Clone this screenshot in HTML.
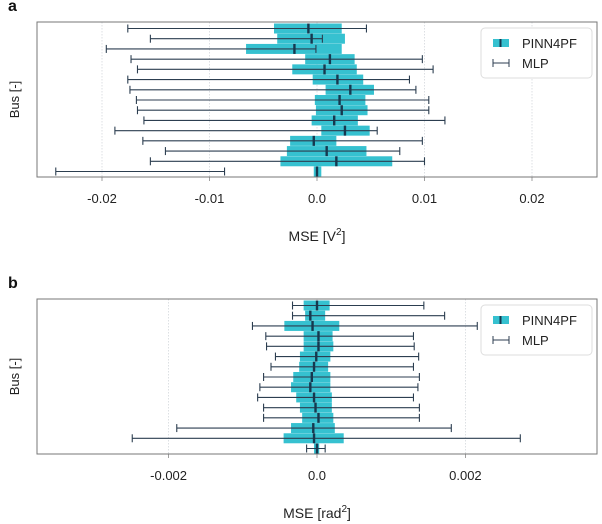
<!DOCTYPE html>
<html><head><meta charset="utf-8"><style>
body{margin:0;background:#fff;}
svg{display:block;font-family:"Liberation Sans",sans-serif;}
</style></head><body>
<svg id="fig" width="602" height="524"></svg>
<script>
// Panel a data (units 1e-3 V^2)
const aMlpLo=[-17.6,-15.5,-19.6,-17.3,-16.7,-17.6,-17.4,-16.8,-16.7,-16.1,-18.8,-16.2,-14.1,-15.5,-24.3];
const aMlpHi=[4.6,0.5,-0.1,9.8,10.8,8.6,9.2,10.4,10.4,11.9,5.6,9.8,7.7,10.0,-8.6];
const aBoxLo=[-4.0,-3.7,-6.6,-1.1,-2.3,-0.4,0.8,-0.2,-0.1,-0.5,0.4,-2.5,-2.8,-3.4,-0.3];
const aBoxHi=[2.3,2.6,2.3,3.5,3.7,4.3,5.3,4.5,4.7,3.8,4.9,1.8,4.6,7.0,0.4];
const aMean=[-0.8,-0.5,-2.1,1.2,0.7,1.9,3.1,2.1,2.3,1.6,2.6,-0.3,0.9,1.8,0];
const aTicks=[-0.02,-0.01,0.0,0.01,0.02];
const aTickLabels=["-0.02","-0.01","0.0","0.01","0.02"];
// Panel b data (units 1e-4 rad^2)
const bMlpLo=[-3.3,-3.3,-8.7,-6.9,-6.8,-5.6,-6.2,-7.2,-7.7,-8.0,-7.2,-7.2,-18.9,-24.9,-1.4];
const bMlpHi=[14.4,17.2,21.6,13.0,13.1,13.7,13.0,13.8,13.6,13.0,13.8,13.8,18.1,27.4,1.1];
const bBoxLo=[-1.8,-1.6,-4.4,-1.8,-1.8,-2.3,-2.4,-3.2,-3.5,-2.8,-2.3,-2.0,-3.5,-4.5,-0.4];
const bBoxHi=[1.7,1.1,3.0,2.1,2.2,1.8,1.5,1.8,1.8,2.0,2.0,2.2,2.4,3.6,0.3];
const bMean=[0,-0.9,-0.6,0.2,0.2,-0.1,-0.4,-0.7,-0.9,-0.4,-0.2,0.2,-0.5,-0.4,0];
const bTicks=[-0.002,0.0,0.002];
const bTickLabels=["-0.002","0.0","0.002"];

const NS="http://www.w3.org/2000/svg";
const svg=document.getElementById('fig');
function mk(tag,attrs,parent){const e=document.createElementNS(NS,tag);for(const k in attrs)e.setAttribute(k,attrs[k]);(parent||svg).appendChild(e);return e;}

function panel(o){
  const g=mk('g',{});
  
  
  const L=37,R=597,T=o.top,B=o.top+155;
  const xs=v=>o.x0+v*o.scale;
  const ys=i=>T+6.5+i*(B-T-12)/14;
  o.ticks.forEach((t,i)=>{
    const x=xs(t);
    const gl=mk('line',{x1:x,x2:x,y1:T,y2:B,stroke:'#d4d8dc','stroke-width':0.8,'stroke-dasharray':'1.5,1.5'},g);
    
    
    mk('line',{x1:x,x2:x,y1:B,y2:B+4,stroke:'#888','stroke-width':0.8},g);
    const tl=mk('text',{x:x,y:B+26,'font-size':13,'text-anchor':'middle',fill:'#222'},g);
    tl.textContent=o.tickLabels[i];
    
    
  });
  const n=o.mean.length;
  for(let i=0;i<n;i++){
    const y=ys(i);
    const bx=mk('rect',{x:xs(o.boxLo[i]*o.unit),y:y-5,width:Math.max(1,xs(o.boxHi[i]*o.unit)-xs(o.boxLo[i]*o.unit)),height:10,fill:'#36c1d0'},g);
    
    
  }
  for(let i=0;i<n;i++){
    const y=ys(i);
    const x1=xs(o.mlpLo[i]*o.unit),x2=xs(o.mlpHi[i]*o.unit);
    const eb=mk('g',{stroke:'#2c3e50','stroke-width':1.1},g);
    
    
    mk('line',{x1:x1,x2:x2,y1:y,y2:y},eb);
    mk('line',{x1:x1,x2:x1,y1:y-4,y2:y+4},eb);
    mk('line',{x1:x2,x2:x2,y1:y-4,y2:y+4},eb);
    const m=mk('rect',{x:xs(o.mean[i]*o.unit)-1.2,y:y-5,width:2.4,height:10,fill:'#16384f'},g);
    
    
  }
  mk('rect',{x:L,y:T,width:R-L,height:B-T,fill:'none',stroke:'#777','stroke-width':1},g);
  const lt=mk('text',{x:8,y:T-11,'font-size':16,'font-weight':'bold',fill:'#111'},g);
  lt.textContent=o.letter;
  
  
  const yl=mk('text',{x:0,y:0,'font-size':13,'text-anchor':'middle',fill:'#222',transform:`translate(19,${(T+B)/2}) rotate(-90)`},g);
  yl.textContent='Bus [-]';
  
  
  const xl=mk('text',{x:317,y:B+64,'font-size':14,'text-anchor':'middle',fill:'#222'},g);
  xl.innerHTML=o.xlabel;
  
  
  const lg=mk('g',{},g);
  
  
  const ly=T+6;
  mk('rect',{x:481,y:ly,width:111,height:50,rx:4,fill:'#fff',stroke:'#ddd','stroke-width':1},lg);
  mk('rect',{x:493,y:ly+11,width:16,height:8,fill:'#36c1d0'},lg);
  mk('rect',{x:499.5,y:ly+11,width:2,height:8,fill:'#16384f'},lg);
  const t1=mk('text',{x:522,y:ly+20,'font-size':13,fill:'#222'},lg);t1.textContent='PINN4PF';
  
  
  mk('line',{x1:493,x2:509,y1:ly+35,y2:ly+35,stroke:'#2c3e50'},lg);
  mk('line',{x1:493,x2:493,y1:ly+31,y2:ly+39,stroke:'#2c3e50'},lg);
  mk('line',{x1:509,x2:509,y1:ly+31,y2:ly+39,stroke:'#2c3e50'},lg);
  const t2=mk('text',{x:522,y:ly+40,'font-size':13,fill:'#222'},lg);t2.textContent='MLP';
  
  
}
panel({name:'panel-a-voltage',letter:'a',top:22,x0:317,scale:10750,unit:1e-3,
  mlpLo:aMlpLo,mlpHi:aMlpHi,boxLo:aBoxLo,boxHi:aBoxHi,mean:aMean,ticks:aTicks,tickLabels:aTickLabels,
  xlabel:'MSE [V<tspan dy="-6" font-size="10">2</tspan><tspan dy="6">]</tspan>'});
panel({name:'panel-b-angle',letter:'b',top:299,x0:317,scale:74200,unit:1e-4,
  mlpLo:bMlpLo,mlpHi:bMlpHi,boxLo:bBoxLo,boxHi:bBoxHi,mean:bMean,ticks:bTicks,tickLabels:bTickLabels,
  xlabel:'MSE [rad<tspan dy="-6" font-size="10">2</tspan><tspan dy="6">]</tspan>'});
</script>
</body></html>
